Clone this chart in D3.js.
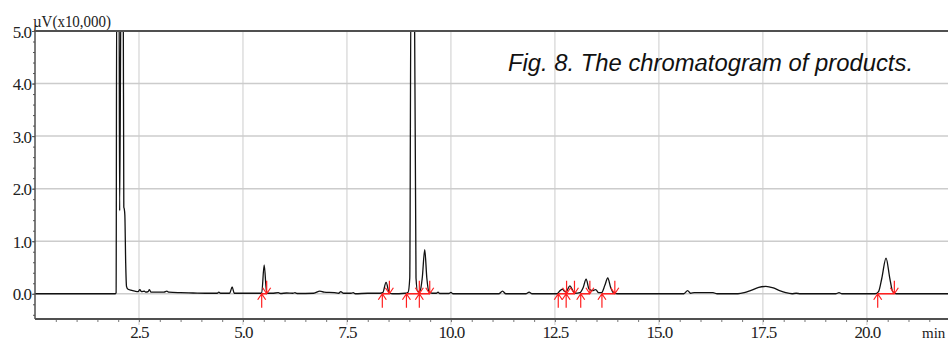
<!DOCTYPE html>
<html><head><meta charset="utf-8">
<script src="https://cdn.jsdelivr.net/npm/d3@7"></script>
<style>
html,body{margin:0;padding:0;background:#fff;overflow:hidden}
svg{display:block}
</style></head>
<body>
<svg id="c" width="948" height="342"></svg>
<script>
// ---- data ----
const traceTime = [0.0,1.93,1.95,1.965,2.02,2.035,2.07,2.12,2.135,2.145,2.16,2.18,2.2,2.23,2.3,2.4,2.48,2.52,2.56,2.63,2.66,2.72,2.75,2.79,2.9,3.1,3.17,3.22,3.5,3.8,4.1,4.38,4.42,4.46,4.68,4.74,4.79,5.0,5.45,5.51,5.57,5.7,5.85,5.9,6.05,6.2,6.25,6.3,6.7,6.85,6.95,7.2,7.3,7.35,7.42,7.6,7.65,7.7,8.0,8.3,8.36,8.44,8.52,8.6,8.9,8.97,9.01,9.04,9.12,9.16,9.2,9.26,9.31,9.37,9.42,9.47,9.55,9.65,9.69,9.73,9.95,10.0,10.05,11.15,11.24,11.32,11.8,11.88,11.95,12.55,12.6,12.68,12.74,12.78,12.86,12.93,12.98,13.1,13.18,13.25,13.32,13.4,13.48,13.55,13.62,13.7,13.77,13.84,13.92,14.0,15.6,15.69,15.76,15.85,16.3,16.4,16.9,17.05,17.2,17.4,17.57,17.75,17.9,18.05,18.2,18.3,18.4,19.25,19.33,19.4,20.2,20.28,20.36,20.46,20.55,20.62,20.7,22.0];
const traceSignal = [0.0,0.0,0.02,6.0,6.0,1.58,6.0,6.0,1.65,1.62,1.5,0.6,0.14,0.09,0.07,0.05,0.04,0.08,0.04,0.05,0.03,0.04,0.08,0.03,0.03,0.03,0.05,0.03,0.02,0.015,0.01,0.01,0.03,0.01,0.01,0.13,0.01,0.01,0.01,0.55,0.01,0.01,0.02,0.005,0.015,0.01,0.02,0.005,0.01,0.05,0.03,0.02,0.01,0.04,0.01,0.01,0.02,0.0,0.01,0.01,0.02,0.215,0.01,0.0,0.01,0.03,0.3,6.0,6.0,0.3,0.04,0.06,0.3,0.84,0.3,0.04,0.01,0.01,0.03,0.005,0.005,0.025,0.0,0.0,0.05,0.0,0.0,0.03,0.0,0.0,0.04,0.09,0.04,0.05,0.15,0.06,0.01,0.02,0.12,0.28,0.09,0.06,0.08,0.02,0.02,0.16,0.30,0.12,0.01,0.0,0.0,0.06,0.01,0.02,0.02,0.0,0.0,0.02,0.06,0.12,0.14,0.11,0.06,0.02,0.0,0.01,0.0,0.0,0.02,0.0,0.0,0.04,0.3,0.68,0.3,0.04,0.0,0.0];
const peakStart = [5.45,8.35,8.93,9.24,12.58,12.77,13.12,13.63,20.26];
const peakEnd   = [5.57,8.52,9.24,9.49,12.78,12.97,13.34,13.94,20.66];
const xMajorTicks = [2.5,5.0,7.5,10.0,12.5,15.0,17.5,20.0];
const xTickLabels = ["2.5","5.0","7.5","10.0","12.5","15.0","17.5","20.0"];
const yMajorTicks = [0,1,2,3,4,5];
const yTickLabels = ["0.0","1.0","2.0","3.0","4.0","5.0"];
const unitLabel = "µV(x10,000)";
const xUnit = "min";
const title = "Fig. 8. The chromatogram of products.";

// ---- layout ----
const svg = d3.select("#c");
const x = d3.scaleLinear().domain([0, 21.95]).range([35, 948]);
const y = d3.scaleLinear().domain([-0.48, 5.0]).range([319, 31]);
const pL = x(0), pR = 948, pT = y(5), pB = y(-0.48);
const axisCol = "#505050", gridCol = "#cccccc";

svg.append("defs").append("clipPath").attr("id","clip")
  .append("rect").attr("x",pL).attr("y",pT).attr("width",pR-pL).attr("height",pB-pT);

// grid
svg.append("g").selectAll("line").data(xMajorTicks).join("line")
  .attr("x1",d=>x(d)).attr("x2",d=>x(d)).attr("y1",pT).attr("y2",pB+6)
  .attr("stroke",gridCol).attr("stroke-width",1);
svg.append("g").selectAll("line").data([0,1,2,3,4]).join("line")
  .attr("x1",pL).attr("x2",pR).attr("y1",d=>y(d)).attr("y2",d=>y(d))
  .attr("stroke",gridCol).attr("stroke-width",1.5);

// minor ticks x
const xMinor = d3.range(1,44).map(i=>i*0.5);
svg.append("g").attr("transform",`translate(0,${pB})`)
  .call(d3.axisBottom(x).tickValues(xMinor).tickSize(3).tickFormat(""))
  .call(g=>{g.select(".domain").remove(); g.selectAll("line").attr("stroke","#777");});
// minor ticks y
const yMinor = d3.range(-2,26).map(i=>+(i*0.2).toFixed(1));
svg.append("g").attr("transform",`translate(${pL},0)`)
  .call(d3.axisLeft(y).tickValues(yMinor).tickSize(2).tickFormat(""))
  .call(g=>{g.select(".domain").remove(); g.selectAll("line").attr("stroke","#555");});

// x labels
svg.append("g").attr("transform",`translate(0,${pB})`)
  .call(d3.axisBottom(x).tickValues(xMajorTicks).tickSize(0).tickPadding(0)
        .tickFormat((d,i)=>xTickLabels[i]))
  .call(g=>{g.select(".domain").remove();
    g.selectAll("text").attr("dy",null).attr("y",19)
      .attr("font-family","'Liberation Serif','Times New Roman',serif")
      .attr("font-size",17).attr("fill","#222").attr("letter-spacing","-1");});
svg.append("text").attr("x",922).attr("y",338).text(xUnit)
  .attr("font-family","'Liberation Serif','Times New Roman',serif")
  .attr("font-size",15).attr("fill","#222");

// y labels
svg.append("g").attr("transform",`translate(${pL},0)`)
  .call(d3.axisLeft(y).tickValues(yMajorTicks).tickSize(3).tickPadding(1)
        .tickFormat((d,i)=>yTickLabels[i]))
  .call(g=>{g.select(".domain").remove(); g.selectAll("line").attr("stroke","#555");
    g.selectAll("text").attr("dy","0.36em")
      .attr("font-family","'Liberation Serif','Times New Roman',serif")
      .attr("font-size",17).attr("fill","#222").attr("letter-spacing","-1");});
svg.append("text").attr("x",33).attr("y",26.5).text(unitLabel)
  .attr("font-family","'Liberation Serif','Times New Roman',serif")
  .attr("font-size",17).attr("fill","#222")
  .attr("textLength",78).attr("lengthAdjust","spacingAndGlyphs");

// trace
const pts = traceTime.map((t,i)=>[t,traceSignal[i]]);
svg.append("path").datum(pts).attr("clip-path","url(#clip)")
  .attr("d", d3.line().x(d=>x(d[0])).y(d=>y(d[1])).curve(d3.curveMonotoneX))
  .attr("fill","none").attr("stroke","#111").attr("stroke-width",1.3);

// peak markers
const red = "#ff2020";
const y0 = y(0);
const mk = svg.append("g").attr("stroke",red).attr("stroke-width",1.2).attr("fill","none");
peakStart.forEach((s,i)=>{
  mk.append("line").attr("x1",x(s)).attr("x2",x(peakEnd[i])).attr("y1",y0).attr("y2",y0).attr("stroke-width",1.5);
});
peakStart.forEach(s=>{
  const xs = x(s);
  mk.append("path").attr("d",`M${xs},${y0+14}V${y0}M${xs-4},${y0+6}L${xs},${y0}L${xs+4},${y0+6}`);
});
peakEnd.forEach(e=>{
  const xe = x(e);
  mk.append("path").attr("d",`M${xe},${y0-13}V${y0}M${xe-4},${y0-6}L${xe},${y0}L${xe+4},${y0-6}`);
});

// frame
svg.append("line").attr("x1",pL).attr("x2",pR).attr("y1",pT).attr("y2",pT).attr("stroke",axisCol).attr("stroke-width",2);
svg.append("line").attr("x1",pL).attr("x2",pR).attr("y1",pB).attr("y2",pB).attr("stroke",axisCol).attr("stroke-width",2);
svg.append("line").attr("x1",pL).attr("x2",pL).attr("y1",pT).attr("y2",pB).attr("stroke",axisCol).attr("stroke-width",1.5);

// title
svg.append("text").attr("x",508).attr("y",71).text(title)
  .attr("font-family","'Liberation Sans',Arial,sans-serif").attr("font-style","italic")
  .attr("font-size",23).attr("fill","#111")
  .attr("textLength",405).attr("lengthAdjust","spacingAndGlyphs");
</script>
</body></html>
